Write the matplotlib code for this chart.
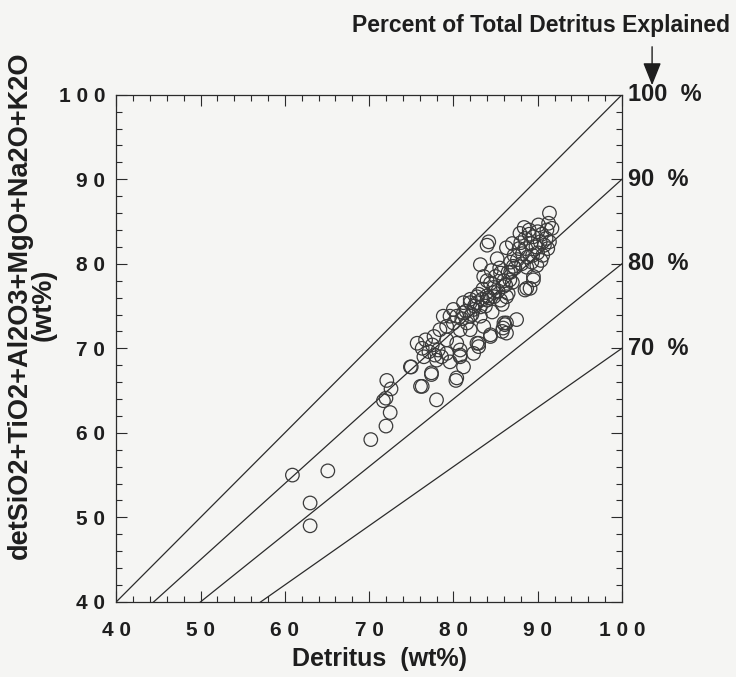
import numpy as np
import matplotlib
matplotlib.use("Agg")
import matplotlib.pyplot as plt

# detritus (wt%) vs sum of detrital oxides (wt%)
detritus = [
    60.9, 65.1, 63.0, 63.0, 70.2, 72.0, 72.5, 72.0, 71.7, 72.1, 72.6, 75.0,
    76.3, 78.0, 77.4, 80.3, 74.9, 76.1, 77.4, 80.4,
    75.7, 76.3, 76.7, 77.1, 77.5, 77.8, 78.2, 78.0, 78.6, 76.5,
    79.2, 79.6, 79.2, 80.4, 80.8, 80.8, 81.2, 82.4, 83.0,
    84.4, 86.1, 86.3, 86.0, 85.8, 84.4, 82.8, 83.0, 80.8,
    79.2, 80.0, 80.8, 81.6, 82.0, 81.2, 82.4, 82.8, 83.4, 84.0, 84.8, 83.2,
    83.6, 82.0, 80.4, 79.6, 78.4, 77.7, 78.8, 80.0, 81.2, 82.0,
    91.4, 91.3, 91.7, 91.1, 84.2, 84.0, 86.3, 85.2, 83.2, 83.6,
    89.5, 89.1, 88.5, 86.7, 85.9, 85.6, 87.1,
    84.4, 84.8, 84.0, 85.6, 86.3, 82.8, 83.2, 82.0, 87.5, 86.3, 85.9,
    88.0, 88.5, 89.0, 89.5, 90.0, 90.5, 89.2, 88.6, 89.8, 90.3, 90.8, 91.0,
    88.2, 88.8, 89.4, 90.0, 90.6, 87.6, 88.1, 88.7, 89.3, 89.9, 87.2, 87.8,
    86.8, 87.3, 86.5, 90.4, 91.2, 91.4, 89.0, 88.4, 87.9, 90.1, 87.0,
    84.5, 85.0, 85.5, 86.0, 84.8, 85.3, 86.2, 86.8, 84.0, 83.5, 84.2, 85.8,
    86.5, 87.0, 83.0, 82.5, 83.8, 84.6, 82.2, 81.5, 81.0, 89.5, 88.7,
]
oxides = [
    55.0, 55.5, 51.7, 49.0, 59.2, 60.8, 62.4, 64.1, 63.8, 66.2, 65.2, 67.8,
    65.5, 63.9, 66.9, 66.2, 67.8, 65.5, 67.1, 66.5,
    70.6, 70.0, 71.0, 69.6, 70.4, 69.2, 69.8, 68.6, 69.0, 69.0,
    69.4, 68.4, 71.0, 70.6, 69.8, 69.0, 67.8, 69.4, 70.6,
    71.4, 72.8, 71.8, 73.0, 72.0, 71.6, 70.6, 70.2, 69.2,
    72.6, 73.0, 72.2, 73.0, 73.8, 74.2, 74.6, 75.4, 75.8, 76.2, 76.6, 73.8,
    72.6, 72.2, 73.8, 73.8, 72.2, 71.4, 73.8, 74.6, 75.4, 75.8,
    86.0, 84.8, 84.2, 84.0, 82.6, 82.2, 81.9, 80.6, 79.9, 78.5,
    78.5, 77.1, 76.9, 78.1, 77.3, 78.9, 79.7,
    77.7, 76.1, 75.7, 75.7, 76.1, 76.1, 74.9, 75.4, 73.4, 73.0, 72.4,
    82.5, 83.0, 83.5, 83.2, 83.8, 83.5, 82.4, 81.8, 82.0, 82.6, 82.2, 83.0,
    81.2, 80.8, 81.0, 81.3, 81.0, 80.5, 80.0, 79.6, 80.2, 79.8, 81.0, 81.8,
    80.2, 79.5, 79.0, 80.4, 81.8, 82.6, 84.0, 84.3, 83.6, 84.6, 82.4,
    79.2, 78.5, 79.5, 78.0, 77.2, 76.8, 77.5, 79.0, 78.0, 77.0, 76.0, 75.2,
    76.5, 77.8, 76.4, 75.0, 75.0, 74.3, 74.0, 74.4, 73.5, 78.1, 77.1,
]

fractions = [1.0, 0.9, 0.8, 0.7]
fraction_labels = ["100  %", "90  %", "80  %", "70  %"]
major_ticks = [40, 50, 60, 70, 80, 90, 100]
tick_labels = ["4 0", "5 0", "6 0", "7 0", "8 0", "9 0", "1 0 0"]


def main():
    plt.rcParams["font.family"] = ["Liberation Sans", "DejaVu Sans"]
    bg = "#f5f5f3"
    ink = "#2b2b2b"
    txt = "#1e1e1e"

    fig = plt.figure(figsize=(7.36, 6.77), dpi=100, facecolor=bg)
    ax = fig.add_axes([0.158, 0.111, 0.687, 0.749])
    ax.set_facecolor(bg)

    xs = np.array([40.0, 100.0])
    for f in fractions:
        ax.plot(xs, f * xs, color=ink, linewidth=0.9, zorder=2)

    ax.scatter(detritus, oxides, s=95, facecolors="none", edgecolors="#3a3a3a",
               linewidths=0.9, zorder=3)

    ax.set_xlim(40, 100)
    ax.set_ylim(40, 100)
    ax.set_xticks(major_ticks)
    ax.set_xticklabels(tick_labels, fontweight="bold")
    ax.set_yticks(major_ticks)
    ax.set_yticklabels(tick_labels, fontweight="bold")
    ax.set_xticks(np.arange(40, 101, 2), minor=True)
    ax.set_yticks(np.arange(40, 101, 2), minor=True)
    ax.tick_params(which="both", direction="in", top=True, right=True,
                   color=ink, width=0.8)
    ax.tick_params(which="major", length=8, labelsize=15, labelcolor=txt)
    ax.tick_params(axis="x", which="major", pad=14)
    ax.tick_params(axis="y", which="major", pad=8)
    ax.tick_params(which="minor", length=4)
    for sp in ax.spines.values():
        sp.set_color(ink)
        sp.set_linewidth(0.9)

    ax.set_xlabel("Detritus  (wt%)", fontsize=18, color=txt, fontweight="bold")
    ax.xaxis.set_label_coords(0.52, -0.09)
    ax.set_ylabel("detSiO2+TiO2+Al2O3+MgO+Na2O+K2O\n(wt%)", fontsize=19.5,
                  color=txt, fontweight="bold", linespacing=0.88)
    ax.yaxis.set_label_coords(-0.118, 0.585)

    trans = ax.get_yaxis_transform()
    for f, lab in zip(fractions, fraction_labels):
        ax.text(1.012, 100 * f, lab, transform=trans, fontsize=17,
                fontweight="bold", va="center", ha="left", color=txt)

    fig.text(0.992, 0.962, "Percent of Total Detritus Explained", fontsize=16.5,
             ha="right", va="center", color=txt, fontweight="bold")
    fig.patches.append(matplotlib.patches.FancyArrowPatch(
        (0.886, 0.935), (0.886, 0.87), transform=fig.transFigure,
        arrowstyle="-|>,head_length=1.0,head_width=0.4", color=txt,
        linewidth=1.0, mutation_scale=14))

    fig.savefig("out.png", dpi=100, facecolor=bg)
    plt.close(fig)


if __name__ == "__main__":
    main()
